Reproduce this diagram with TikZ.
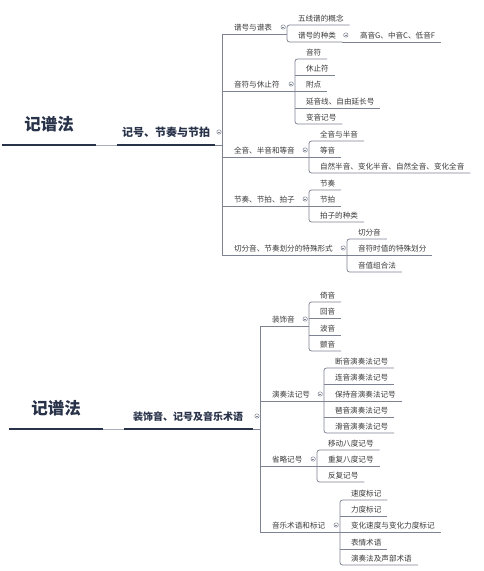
\documentclass[tikz,border=0pt]{standalone}
\usepackage{fontspec}
\newfontfamily\cjk{Noto Sans CJK SC}
\usetikzlibrary{calc}
\definecolor{txt}{HTML}{3A3A3A}
\definecolor{lnc}{HTML}{7D8392}
\definecolor{dk}{HTML}{283249}
\definecolor{lt}{HTML}{A9AFBB}
\tikzset{
  ln/.style={draw=lnc, line width=0.75pt},
  dkline/.style={draw=dk, line width=2.3pt},
  ltline/.style={draw=lt, line width=0.9pt},
  kid/.style={anchor=south west, inner xsep=0pt, inner ysep=2.4pt, outer sep=0pt,
    text height=6pt, text depth=1.6pt, font=\cjk\fontsize{7.6}{9}\selectfont, text=txt},
  fold/.style={circle, draw=lnc, line width=0.5pt, inner sep=0pt, minimum size=4.4pt, fill=white},
  rootnode/.style={font=\cjk\bfseries\fontsize{16.5}{19}\selectfont, text=dk, inner sep=0pt},
  lvone/.style={font=\cjk\bfseries\fontsize{11}{13}\selectfont, text=dk, inner sep=0pt},
}
\newcommand\kid[4]{\node[kid] (#1) at (#2,#3) {\hspace*{11pt}#4\hspace*{6pt}};}
\newcommand\branch[4]{\node[kid] (#1) at (#2,#3) {\hspace*{12pt}#4};}
\newcommand\foldmark[2]{\node[fold] (#1) at (#2) {};
  \draw[lnc,line width=.45pt] ($(#1)+(-1.1,0)$) -- ($(#1)+(1.1,0)$);}
\newcommand\brk[2]{\draw[ln,rounded corners=2.5pt] (#1.south east) -- (#1.south west) -- (#2.south west) -- (#2.south east);}
\newcommand\ul[1]{\draw[ln] (#1.south west) -- (#1.south east);}
\newcommand\link[3]{\draw[ln] (#1.south west) -- (#1.south west -| #2.south west);
  \foldmark{#3}{$(#1.south west -| #2.south west)+(-3.8,-7)$}}
\begin{document}
\begin{tikzpicture}[x=1pt,y=-1pt]
\useasboundingbox[fill=white] (0,0) rectangle (483,571);

%================ TOP =================
\node[rootnode] (r1) at (49,124) {记谱法};
\coordinate (r1a) at (2,145); \coordinate (r1b) at (96,145);
\draw[dkline] (r1a) -- (r1b);
\node[lvone] (l1) at (166,132) {记号、节奏与节拍};
\coordinate (l1a) at (117,145); \coordinate (l1b) at (215,145);
\coordinate (t1) at (222,145);
\draw[ltline] (r1b) -- (l1a);
\draw[dkline] (l1a) -- (l1b);
\draw[ln] (l1b) -- (t1);
\foldmark{f1}{219,132}

% level 2
\branch{p1}{222}{34}{谱号与谱表}
\branch{p2}{222}{91}{音符与休止符}
\branch{p3}{222}{157}{全音、半音和等音}
\branch{p4}{222}{206}{节奏、节拍、拍子}
\branch{p5}{222}{255}{切分音、节奏划分的特殊形式}
\draw[ln] (p1.south west) -- (p5.south west);

% p1
\kid{k11}{287}{25}{五线谱的概念}
\kid{k12}{287}{42}{谱号的种类}
\kid{g121}{349}{42}{高音G、中音C、低音F}
\link{p1}{k11}{f11}
\brk{k11}{k12}
\draw[ln] (k12.south east) -- (g121.south east);
\foldmark{f12}{$(g121.south west)+(-3.2,-7)$}

% p2
\kid{k21}{295}{59}{音符}
\kid{k22}{295}{75}{休止符}
\kid{k23}{295}{91}{附点}
\kid{k24}{295}{108}{延音线、自由延长号}
\kid{k25}{295}{124}{变音记号}
\link{p2}{k21}{f2}
\brk{k21}{k25}
\ul{k22}\ul{k23}\ul{k24}

% p3
\kid{k31}{309}{141}{全音与半音}
\kid{k32}{309}{157}{等音}
\kid{k33}{309}{173}{自然半音、变化半音、自然全音、变化全音}
\link{p3}{k31}{f3}
\brk{k31}{k33}
\ul{k32}

% p4
\kid{k41}{309}{190}{节奏}
\kid{k42}{309}{206}{节拍}
\kid{k43}{309}{222}{拍子的种类}
\link{p4}{k41}{f4}
\brk{k41}{k43}
\ul{k42}

% p5
\kid{k51}{347}{239}{切分音}
\kid{k52}{347}{255}{音符时值的特殊划分}
\kid{k53}{347}{272}{音值组合法}
\link{p5}{k51}{f5}
\brk{k51}{k53}
\ul{k52}

%================ BOTTOM =================
\node[rootnode] (r2) at (56,408) {记谱法};
\coordinate (r2a) at (9,429); \coordinate (r2b) at (103,429);
\draw[dkline] (r2a) -- (r2b);
\node[lvone, font=\cjk\bfseries\fontsize{10}{12}\selectfont] (l2) at (188,417) {装饰音、记号及音乐术语};
\coordinate (l2a) at (124,429); \coordinate (l2b) at (253,429);
\coordinate (t2) at (260,429);
\draw[ltline] (r2b) -- (l2a);
\draw[dkline] (l2a) -- (l2b);
\draw[ln] (l2b) -- (t2);
\foldmark{f6}{257,416}

\branch{q1}{260}{326}{装饰音}
\branch{q2}{260}{401}{演奏法记号}
\branch{q3}{260}{466}{省略记号}
\branch{q4}{260}{532}{音乐术语和标记}
\draw[ln] (q1.south west) -- (q4.south west);

% q1
\kid{m11}{309}{302}{倚音}
\kid{m12}{309}{318}{回音}
\kid{m13}{309}{335}{波音}
\kid{m14}{309}{351}{颤音}
\link{q1}{m11}{h1}
\brk{m11}{m14}
\ul{m12}\ul{m13}

% q2
\kid{m21}{324}{368}{断音演奏法记号}
\kid{m22}{324}{384}{连音演奏法记号}
\kid{m23}{324}{401}{保持音演奏法记号}
\kid{m24}{324}{417}{琶音演奏法记号}
\kid{m25}{324}{433}{滑音演奏法记号}
\link{q2}{m21}{h2}
\brk{m21}{m25}
\ul{m22}\ul{m23}\ul{m24}

% q3
\kid{m31}{317}{450}{移动八度记号}
\kid{m32}{317}{466}{重复八度记号}
\kid{m33}{317}{482}{反复记号}
\link{q3}{m31}{h3}
\brk{m31}{m33}
\ul{m32}

% q4
\kid{m41}{340}{500}{速度标记}
\kid{m42}{340}{516}{力度标记}
\kid{m43}{340}{532}{变化速度与变化力度标记}
\kid{m44}{340}{549}{表情术语}
\kid{m45}{340}{565}{演奏法及声部术语}
\link{q4}{m41}{h4}
\brk{m41}{m45}
\ul{m42}\ul{m43}\ul{m44}
\end{tikzpicture}
\end{document}
